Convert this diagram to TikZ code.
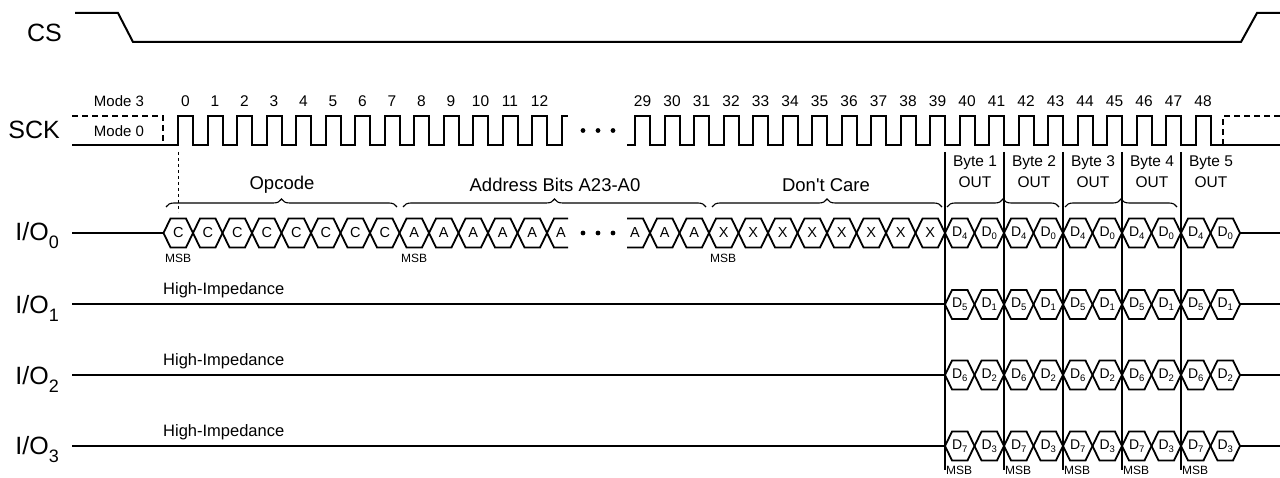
\documentclass[tikz,border=0pt]{standalone}
\usepackage{fontspec}
\setmainfont{Liberation Sans}[Ligatures=TeXOff]
\usetikzlibrary{decorations.pathreplacing}
\newcommand\dsub[1]{{\fontsize{14}{14}\selectfont D\kern-0.3pt\raisebox{-0.2em}{\fontsize{9.5}{9.5}\selectfont #1}}}
\newcommand\iolabel[1]{I/O\raisebox{-0.32em}{\fontsize{18}{18}\selectfont #1}}
\begin{document}
\begin{tikzpicture}[x=1pt,y=-1pt,
  wave/.style={line width=2pt, line join=miter},
  hexa/.style={line width=1.8pt, line join=miter},
  dashwave/.style={line width=2pt, dash pattern=on 6pt off 4pt},
  guide/.style={line width=0.8pt, dash pattern=on 3pt off 3pt},
  bline/.style={line width=2.4pt},
  bracestyle/.style={line width=1.1pt, decorate, decoration={brace, amplitude=8pt}},
  sig/.style={font=\fontsize{25}{25}\selectfont, inner sep=0pt, anchor=east},
  num/.style={font=\fontsize{15.5}{15.5}\selectfont, inner sep=0pt},
  modetxt/.style={font=\fontsize{15}{15}\selectfont, inner sep=0pt},
  hl/.style={font=\fontsize{14.5}{14.5}\selectfont, inner sep=0pt},
  brtxt/.style={font=\fontsize{18.5}{18.5}\selectfont, inner sep=0pt},
  bytetxt/.style={font=\fontsize{15.5}{15.5}\selectfont, inner sep=0pt, align=center},
  msb/.style={font=\fontsize{12}{12}\selectfont, inner sep=0pt, anchor=west},
  hiz/.style={font=\fontsize{16.5}{16.5}\selectfont, inner sep=0pt, anchor=west}
]
\useasboundingbox (0,0) rectangle (1280,478);
\def\sl{7}

% ---------- signal names ----------
\node[sig] (lcs) at (62,33) {CS};
\node[sig] (lsck) at (60,130) {SCK};
\node[sig] (lio0) at (59,236) {\iolabel{0}};
\node[sig] (lio1) at (59,308) {\iolabel{1}};
\node[sig] (lio2) at (59,379) {\iolabel{2}};
\node[sig] (lio3) at (59,450) {\iolabel{3}};

% ---------- CS ----------
\draw[wave] (75,13) -- (118,13) -- (133,42) -- (1241,42) -- (1257,13) -- (1280,13);

% ---------- SCK ----------
\node[modetxt] (m3) at (119,101) {Mode 3};
\node[modetxt] (m0) at (119,131) {Mode 0};
\draw[dashwave] (72,116) -- (163,116) -- (163,145);
\draw[wave] (72,145) -- (178,145)
  \foreach \k in {0,...,12}{ -- ++(0,-29) -- ++(15,0) -- ++(0,29) -- ++(14.5,0)}
  -- ++(0,-29) -- ++(6.5,0);
\draw[wave] (627,145) -- (635,145)
  \foreach \k in {29,...,48}{ -- ++(0,-29) -- ++(15,0) -- ++(0,29) -- ++(14.5,0)}
  -- (1280,145);
\draw[dashwave] (1223,145) -- (1223,116) -- (1280,116);
\foreach \k in {0,...,12} \node[num] (n\k) at ({185.5+29.5*\k},101) {\k};
\foreach \k in {29,...,48} \node[num] (n\k) at ({642.5+29.5*(\k-29)},101) {\k};
\foreach \i/\xx in {1/583,2/598,3/613} \fill (\xx,130.5) circle (2.4pt) node (sd\i) {};
\draw[guide] (178,152) -- (178,212);

% ---------- I/O0 ----------
\draw[wave] (72,233) -- (163.5,233);
\foreach \j in {0,...,12}{
  \pgfmathsetmacro\xa{163.5+29.5*\j}
  \pgfmathsetmacro\xb{\xa+29.5}
  \draw[hexa] (\xa,233) -- (\xa+\sl,218.5) -- (\xb-\sl,218.5) -- (\xb,233) -- (\xb-\sl,247.5) -- (\xa+\sl,247.5) -- cycle;
  \ifnum\j<8 \node[hl] (h\j) at ({(\xa+\xb)/2},233) {C};
  \else \node[hl] (h\j) at ({(\xa+\xb)/2},233) {A}; \fi
}
\draw[hexa] (568,218.5) -- (547+\sl,218.5) -- (547,233) -- (547+\sl,247.5) -- (568,247.5);
\node[hl] (hopen1) at (561,233) {A};
\foreach \i/\xx in {1/583,2/598,3/613} \fill (\xx,233) circle (2.4pt) node (dd\i) {};
\draw[hexa] (627,218.5) -- (650-\sl,218.5) -- (650,233) -- (650-\sl,247.5) -- (627,247.5);
\node[hl] (hopen2) at (635,233) {A};
\foreach \m in {0,...,9}{
  \pgfmathsetmacro\xa{650+29.5*\m}
  \pgfmathsetmacro\xb{\xa+29.5}
  \draw[hexa] (\xa,233) -- (\xa+\sl,218.5) -- (\xb-\sl,218.5) -- (\xb,233) -- (\xb-\sl,247.5) -- (\xa+\sl,247.5) -- cycle;
  \ifnum\m<2 \node[hl] (g\m) at ({(\xa+\xb)/2},233) {A};
  \else \node[hl] (g\m) at ({(\xa+\xb)/2},233) {X}; \fi
}
\node[msb] (msb1) at (165,258) {MSB};
\node[msb] (msb2) at (401,258) {MSB};
\node[msb] (msb3) at (710,258) {MSB};

% ---------- data output nibbles ----------
\foreach \row/\yy/\hi/\lo in {0/233/4/0,1/304.5/5/1,2/375/6/2,3/446/7/3}{
  \foreach \n in {0,...,9}{
    \pgfmathsetmacro\xa{945+29.5*\n}
    \pgfmathsetmacro\xb{\xa+29.5}
    \draw[hexa] (\xa,\yy) -- (\xa+\sl,\yy-14.5) -- (\xb-\sl,\yy-14.5) -- (\xb,\yy) -- (\xb-\sl,\yy+14.5) -- (\xa+\sl,\yy+14.5) -- cycle;
    \ifodd\n \node[hl] (d\row-\n) at ({(\xa+\xb)/2},\yy) {\dsub{\lo}};
    \else \node[hl] (d\row-\n) at ({(\xa+\xb)/2},\yy) {\dsub{\hi}}; \fi
  }
  \draw[wave] (1240,\yy) -- (1280,\yy);
}
\foreach \yy in {304.5,375,446} \draw[wave] (72,\yy) -- (945,\yy);
\node[hiz] (hz1) at (163,290) {High-Impedance};
\node[hiz] (hz2) at (163,361) {High-Impedance};
\node[hiz] (hz3) at (163,432) {High-Impedance};

% ---------- byte separators ----------
\foreach \b in {0,...,4}{
  \pgfmathsetmacro\xv{945+59*\b}
  \draw[bline] (\xv,152) -- (\xv,470);
  \node[msb] (bm\b) at (\xv+1,470) {MSB};
  \pgfmathtruncatemacro\bn{\b+1}
  \node[bytetxt] (by\b) at ({\xv+30},163) {Byte \bn};
  \node[bytetxt] (bo\b) at ({\xv+30},182) {OUT};
}

% ---------- braces ----------
\draw[bracestyle] (166,207) -- (397,207);
\draw[bracestyle] (403,207) -- (706,207);
\draw[bracestyle] (712,207) -- (942,207);
\draw[bracestyle] (947,207) -- (1059,207);
\draw[bracestyle] (1065,207) -- (1177,207);
\node[brtxt] (top) at (282,185) {Opcode};
\node[brtxt] (tad) at (555,185) {Address Bits A23-A0};
\node[brtxt] (tdc) at (826,185) {Don't Care};
\end{tikzpicture}
\end{document}
